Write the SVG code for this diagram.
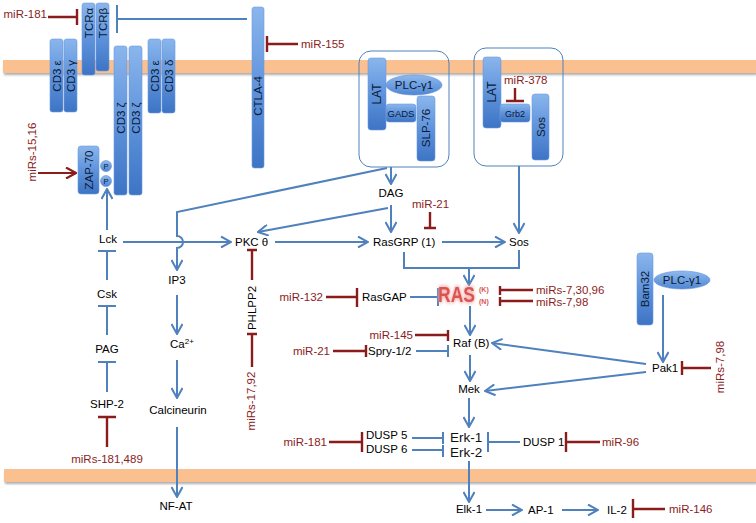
<svg xmlns="http://www.w3.org/2000/svg" width="756" height="523" viewBox="0 0 756 523">
<defs>
<linearGradient id="bg" x1="0" y1="0" x2="0" y2="1">
<stop offset="0" stop-color="#8ab6ec"/>
<stop offset="0.5" stop-color="#5f93dc"/>
<stop offset="1" stop-color="#3d74c4"/>
</linearGradient>
<linearGradient id="eg" x1="0" y1="0" x2="0" y2="1">
<stop offset="0" stop-color="#8fb9ee"/>
<stop offset="1" stop-color="#4f86d2"/>
</linearGradient>
<filter id="sh" x="-5%" y="-50%" width="110%" height="250%">
<feDropShadow dx="1" dy="2" stdDeviation="1.2" flood-color="#777" flood-opacity="0.6"/>
</filter>
<filter id="glow" x="-30%" y="-50%" width="160%" height="200%">
<feGaussianBlur in="SourceAlpha" stdDeviation="1.5" result="b"/>
<feFlood flood-color="#f4a6a6"/>
<feComposite in2="b" operator="in" result="g"/>
<feMerge><feMergeNode in="g"/><feMergeNode in="g"/><feMergeNode in="SourceGraphic"/></feMerge>
</filter>
<marker id="ab" viewBox="0 0 12 12" refX="11" refY="6" markerWidth="12" markerHeight="12" orient="auto" markerUnits="userSpaceOnUse">
<path d="M1,0.5 L11,6 L1,11.5" fill="none" stroke="#4f81bd" stroke-width="2"/>
</marker>
<marker id="ar" viewBox="0 0 12 12" refX="11" refY="6" markerWidth="12" markerHeight="12" orient="auto" markerUnits="userSpaceOnUse">
<path d="M1,0.5 L11,6 L1,11.5" fill="none" stroke="#8b1c1c" stroke-width="2.2"/>
</marker>
</defs>
<style>
.mem{fill:#fac08f;filter:url(#sh)}
.box{fill:url(#bg);stroke:#6c9be0;stroke-width:0.6}
.ell{fill:url(#eg);stroke:#5d8fd8;stroke-width:0.6}
.grp{fill:none;stroke:#4f81bd;stroke-width:1}
.bl{fill:none;stroke:#4f81bd;stroke-width:2}
.ba{fill:none;stroke:#4f81bd;stroke-width:2;marker-end:url(#ab)}
.rd{fill:none;stroke:#8b1c1c;stroke-width:2.4}
.ra{fill:none;stroke:#8b1c1c;stroke-width:2.2;marker-end:url(#ar)}
text{font-family:"Liberation Sans",Arial,sans-serif;font-size:11.5px;fill:#000}
.mi{fill:#8b1d1d}
.bx{font-size:11.5px;fill:#0b1a33}
.sm{font-size:9.5px;fill:#0b1a33}
.erk{font-size:13.5px;fill:#111}
.ras{font-size:17.5px;font-weight:bold;fill:#d9534f;filter:url(#glow)}
.rs{font-size:7px;font-weight:bold;fill:#d9534f}
</style>
<rect width="756" height="523" fill="#fff"/>
<g id="membranes">
<rect class="mem" x="3" y="60" width="753" height="13"/>
<rect class="mem" x="4" y="469" width="752" height="13"/>
</g>

<g id="connectors">
<line class="ba" x1="107" y1="230" x2="107" y2="189"/>
<line class="ba" x1="123" y1="242" x2="231" y2="242"/>
<line class="ba" x1="391" y1="167" x2="391" y2="184"/>
<path class="ba" d="M387,168 L177,212 L177,236 A6,6 0 0 1 177,248 L177,270"/>
<line class="ba" x1="177" y1="295" x2="177" y2="334"/>
<line class="ba" x1="177" y1="360" x2="177" y2="398"/>
<line class="ba" x1="177" y1="427" x2="177" y2="497"/>
<line class="ba" x1="388" y1="208" x2="258" y2="232"/>
<line class="ba" x1="391" y1="205" x2="391" y2="232"/>
<line class="ba" x1="275" y1="242" x2="368" y2="242"/>
<line class="ba" x1="442" y1="242" x2="505" y2="242"/>
<line class="ba" x1="519" y1="166" x2="519" y2="233"/>
<polyline class="bl" points="404,252 404,268 519,268 519,250"/>
<line class="ba" x1="469" y1="268" x2="469" y2="285"/>
<line class="ba" x1="470" y1="306" x2="470" y2="335"/>
<line class="ba" x1="470" y1="355" x2="470" y2="381"/>
<line class="ba" x1="646" y1="364" x2="492" y2="343"/>
<line class="ba" x1="646" y1="372" x2="485" y2="391"/>
<line class="ba" x1="663" y1="295" x2="663" y2="362"/>
<line class="ba" x1="469" y1="398" x2="469" y2="427"/>
<line class="ba" x1="469" y1="461" x2="469" y2="502"/>
<line class="ba" x1="486" y1="510" x2="522" y2="510"/>
<line class="ba" x1="562" y1="510" x2="598" y2="510"/>
<path class="bl" d="M247,19 H117 M117,5 V33"/>
<path class="bl" d="M107,280 V251 M98,251 H116"/>
<path class="bl" d="M107,335 V306 M98,306 H116"/>
<path class="bl" d="M107,392 V362 M98,362 H116"/>
<path class="bl" d="M410,297 H438 M438,288 V306"/>
<path class="bl" d="M416,351 H448 M448,345 V357"/>
<path class="bl" d="M412,438 H443 M443,432 V444"/>
<path class="bl" d="M412,450 H443 M443,445 V457"/>
<path class="bl" d="M520,442 H488 M488,432 V452"/>
<line class="ra" x1="38" y1="173" x2="76" y2="173"/>
<path class="rd" d="M48,17 H77 M77,9 V25"/>
<path class="rd" d="M298,44 H267 M267,36 V52"/>
<path class="rd" d="M515,88 V101 M506,101 H524"/>
<path class="rd" d="M430,212 V228 M424,228 H436"/>
<path class="rd" d="M252,280 V250 M247,250 H257"/>
<path class="rd" d="M252,367 V334 M247,334 H257"/>
<path class="rd" d="M326,297 H357 M357,288 V307"/>
<path class="rd" d="M533,290 H500 M500,286 V295"/>
<path class="rd" d="M533,301 H500 M500,297 V306"/>
<path class="rd" d="M415,335 H448 M448,330 V341"/>
<path class="rd" d="M333,351 H366 M366,345 V357"/>
<path class="rd" d="M107,447 V417 M98,417 H116"/>
<path class="rd" d="M329,442 H362 M362,432 V452"/>
<path class="rd" d="M600,442 H566 M566,432 V452"/>
<path class="rd" d="M665,509 H633 M633,499 V518"/>
<path class="rd" d="M711,368 H682 M682,361 V375"/>
</g>

<g id="tcr-alpha"><rect class="box" x="82" y="3" width="13" height="72" rx="2.5"/><text class="bx" transform="translate(92.5,23) rotate(-90)" text-anchor="middle">TCRα</text></g>
<g id="tcr-beta"><rect class="box" x="96" y="3" width="13" height="68" rx="2.5"/><text class="bx" transform="translate(106.5,23) rotate(-90)" text-anchor="middle">TCRβ</text></g>
<g id="cd3e-left"><rect class="box" x="50" y="39" width="13" height="73" rx="2.5"/><text class="bx" transform="translate(60.5,76) rotate(-90)" text-anchor="middle">CD3 ε</text></g>
<g id="cd3g"><rect class="box" x="64" y="39" width="13" height="73" rx="2.5"/><text class="bx" transform="translate(74.5,76) rotate(-90)" text-anchor="middle">CD3 γ</text></g>
<g id="cd3z-1"><rect class="box" x="114" y="46" width="13" height="149" rx="2.5"/><text class="bx" transform="translate(124.5,118) rotate(-90)" text-anchor="middle">CD3 ζ</text></g>
<g id="cd3z-2"><rect class="box" x="129" y="46" width="13" height="149" rx="2.5"/><text class="bx" transform="translate(139.5,118) rotate(-90)" text-anchor="middle">CD3 ζ</text></g>
<g id="cd3e-right"><rect class="box" x="148" y="39" width="13" height="74" rx="2.5"/><text class="bx" transform="translate(158.5,76) rotate(-90)" text-anchor="middle">CD3 ε</text></g>
<g id="cd3d"><rect class="box" x="162" y="39" width="13" height="74" rx="2.5"/><text class="bx" transform="translate(172.5,76) rotate(-90)" text-anchor="middle">CD3 δ</text></g>
<g id="ctla4"><rect class="box" x="252" y="7" width="12" height="161" rx="2.5"/><text class="bx" transform="translate(262,96) rotate(-90)" text-anchor="middle">CTLA-4</text></g>
<g id="zap70"><rect class="box" x="78" y="146" width="21" height="48" rx="3"/><text class="bx" transform="translate(92.5,170) rotate(-90)" text-anchor="middle">ZAP-70</text>
<circle class="ell" cx="106" cy="166" r="5.5"/><text class="sm" x="106" y="169" text-anchor="middle" style="font-size:7.5px">P</text>
<circle class="ell" cx="106" cy="181" r="5.5"/><text class="sm" x="106" y="184" text-anchor="middle" style="font-size:7.5px">P</text></g>

<g id="lat-complex-1">
<rect class="grp" x="359" y="51" width="90" height="116" rx="12"/>
<rect class="box" x="368" y="58" width="18" height="72" rx="3"/><text class="bx" transform="translate(381,94) rotate(-90)" text-anchor="middle" style="font-size:12px">LAT</text>
<rect class="box" x="417" y="96" width="18" height="65" rx="3"/><text class="bx" transform="translate(430,128) rotate(-90)" text-anchor="middle">SLP-76</text>
<rect class="box" x="386" y="104" width="30" height="18" rx="3"/><text class="sm" x="401" y="117" text-anchor="middle">GADS</text>
<ellipse class="ell" cx="414" cy="85" rx="28" ry="10"/><text class="bx" x="414" y="89" text-anchor="middle">PLC-γ1</text>
</g>
<g id="lat-complex-2">
<rect class="grp" x="474" y="48" width="89" height="118" rx="12"/>
<rect class="box" x="483" y="57" width="18" height="71" rx="3"/><text class="bx" transform="translate(496,92) rotate(-90)" text-anchor="middle" style="font-size:12px">LAT</text>
<rect class="box" x="500" y="104" width="30" height="18" rx="3"/><text class="sm" x="515" y="117" text-anchor="middle" style="font-size:9px">Grb2</text>
<rect class="box" x="532" y="94" width="17" height="66" rx="3"/><text class="bx" transform="translate(544.5,127) rotate(-90)" text-anchor="middle">Sos</text>
</g>
<g id="bam32">
<rect class="box" x="637" y="253" width="16" height="72" rx="3"/><text class="bx" transform="translate(649,289) rotate(-90)" text-anchor="middle">Bam32</text>
<ellipse class="ell" cx="682" cy="280" rx="28" ry="9"/><text class="bx" x="682" y="284" text-anchor="middle">PLC-γ1</text>
</g>

<g id="labels">
<text x="108" y="243" text-anchor="middle">Lck</text>
<text x="107" y="298" text-anchor="middle">Csk</text>
<text x="107" y="353" text-anchor="middle">PAG</text>
<text x="107" y="408" text-anchor="middle">SHP-2</text>
<text x="177" y="284" text-anchor="middle">IP3</text>
<text x="170" y="348">Ca<tspan font-size="8" dy="-4">2+</tspan></text>
<text x="178" y="414" text-anchor="middle">Calcineurin</text>
<text x="176" y="510" text-anchor="middle">NF-AT</text>
<text x="391" y="197" text-anchor="middle">DAG</text>
<text x="235" y="246">PKC θ</text>
<text x="373" y="246">RasGRP (1)</text>
<text x="509" y="246">Sos</text>
<text x="362" y="301">RasGAP</text>
<text class="ras" transform="translate(438,302) scale(1,1.25)">RAS</text>
<text class="rs" x="479" y="292">(K)</text>
<text class="rs" x="479" y="304">(N)</text>
<text x="368" y="355">Spry-1/2</text>
<text x="453" y="347">Raf (B)</text>
<text x="652" y="372">Pak1</text>
<text x="469" y="393" text-anchor="middle">Mek</text>
<text x="366" y="439">DUSP 5</text>
<text x="366" y="453">DUSP 6</text>
<text class="erk" x="450" y="442">Erk-1</text>
<text class="erk" x="450" y="457">Erk-2</text>
<text x="523" y="446">DUSP 1</text>
<text x="469" y="513" text-anchor="middle">Elk-1</text>
<text x="528" y="514">AP-1</text>
<text x="607" y="514">IL-2</text>
<text transform="translate(256,308) rotate(-90)" text-anchor="middle">PHLPP2</text>
</g>
<g id="mirnas">
<text class="mi" x="47" y="18" text-anchor="end">miR-181</text>
<text class="mi" x="301" y="48">miR-155</text>
<text class="mi" x="504" y="84">miR-378</text>
<text class="mi" x="412" y="208">miR-21</text>
<text class="mi" transform="translate(36,152) rotate(-90)" text-anchor="middle">miRs-15,16</text>
<text class="mi" transform="translate(255,401) rotate(-90)" text-anchor="middle">miRs-17,92</text>
<text class="mi" x="107" y="463" text-anchor="middle">miRs-181,489</text>
<text class="mi" x="323" y="301" text-anchor="end">miR-132</text>
<text class="mi" x="536" y="294">miRs-7,30,96</text>
<text class="mi" x="536" y="306">miRs-7,98</text>
<text class="mi" x="413" y="339" text-anchor="end">miR-145</text>
<text class="mi" x="330" y="355" text-anchor="end">miR-21</text>
<text class="mi" transform="translate(724,367) rotate(-90)" text-anchor="middle">miRs-7,98</text>
<text class="mi" x="327" y="446" text-anchor="end">miR-181</text>
<text class="mi" x="602" y="446">miR-96</text>
<text class="mi" x="669" y="513">miR-146</text>
</g>
</svg>
